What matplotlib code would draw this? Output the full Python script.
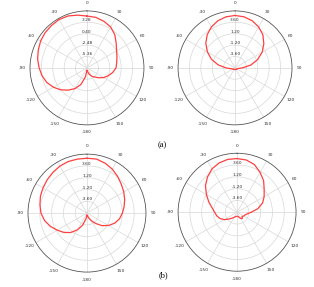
import numpy as np
import matplotlib.pyplot as plt
from matplotlib.ticker import MultipleLocator

# angles, degrees clockwise from north, 10 deg steps
angles = list(range(0, 190, 10)) + list(range(-170, 10, 10))

# patterns read as fraction of the plot radius
pat_a1 = [0.91, 0.90, 0.87, 0.83, 0.76, 0.67, 0.60, 0.56, 0.53, 0.51,
          0.46, 0.40, 0.34, 0.27, 0.21, 0.17, 0.12, 0.07, 0.04,
          0.16, 0.31, 0.42, 0.51, 0.60, 0.68, 0.75, 0.80, 0.84,
          0.88, 0.91, 0.94, 0.96, 0.97, 0.98, 0.97, 0.94, 0.91]
pat_a2 = [0.92, 0.91, 0.88, 0.83, 0.76, 0.66, 0.55, 0.42, 0.28, 0.13,
          0.06, 0.04, 0.04, 0.04, 0.03, 0.03, 0.03, 0.03, 0.03,
          0.03, 0.03, 0.03, 0.03, 0.04, 0.04, 0.05, 0.08, 0.16,
          0.30, 0.44, 0.56, 0.67, 0.76, 0.83, 0.88, 0.91, 0.92]
pat_b1 = [0.93, 0.93, 0.90, 0.86, 0.81, 0.76, 0.72, 0.68, 0.64, 0.60,
          0.56, 0.50, 0.42, 0.33, 0.23, 0.15, 0.09, 0.05, 0.03,
          0.10, 0.22, 0.33, 0.43, 0.51, 0.58, 0.66, 0.73, 0.78,
          0.81, 0.84, 0.86, 0.88, 0.90, 0.92, 0.93, 0.93, 0.93]
pat_b2 = [0.91, 0.90, 0.86, 0.78, 0.70, 0.60, 0.53, 0.46, 0.36, 0.24,
          0.17, 0.14, 0.13, 0.11, 0.14, 0.12, 0.09, 0.07, 0.07,
          0.07, 0.08, 0.10, 0.13, 0.18, 0.25, 0.31, 0.35, 0.38,
          0.43, 0.51, 0.60, 0.70, 0.78, 0.85, 0.89, 0.91, 0.91]

# radial scales: value at center and ring step (rings at 0.2..1.0)
scale_a1 = (-8.24, 2.88)
scale_std = (-6.0, 2.4)

panels = [
    (pat_a1, scale_a1, [0.0955, 0.565, 0.363, 0.397]),
    (pat_a2, scale_std, [0.567, 0.565, 0.363, 0.397]),
    (pat_b1, scale_std, [0.089, 0.052, 0.376, 0.411]),
    (pat_b2, scale_std, [0.567, 0.055, 0.376, 0.411]),
]

theta_labels = ['0', '30', '60', '90', '120', '150', '-180',
                '-150', '-120', '-90', '-60', '-30']

fig = plt.figure(figsize=(3.14, 2.87), dpi=100)

for pat, (rmin, step), rect in panels:
    ax = fig.add_axes(rect, projection='polar')
    ax.set_theta_zero_location('N')
    ax.set_theta_direction(-1)
    rmax = rmin + 5 * step
    vals = [rmin + p * 5 * step for p in pat]
    ax.plot(np.deg2rad(angles), vals, color='#ff4040', lw=0.9)
    ax.set_rlim(rmin, rmax)
    rings = [rmin + k * step for k in range(1, 5)]
    ax.set_rticks(rings)
    ax.set_yticklabels([])
    for r in rings:
        ax.text(0, r, '%.2f' % r, ha='center', va='bottom', fontsize=3.2,
                color='#333333')
    ax.set_thetagrids(np.arange(0, 360, 30), theta_labels, fontsize=3.2)
    ax.xaxis.set_minor_locator(MultipleLocator(np.deg2rad(5)))
    ax.tick_params(axis='x', which='major', direction='in', pad=-1.5,
                   length=2, width=0.5, colors='#333333')
    ax.tick_params(axis='x', which='minor', direction='in', length=1.2,
                   width=0.4, color='#555555')
    ax.grid(color='#d8d8d8', lw=0.5)
    ax.spines['polar'].set_color('#555555')
    ax.spines['polar'].set_linewidth(0.6)

fig.text(0.516, 0.495, '(a)', ha='center', va='center', fontsize=6,
         family='Liberation Serif')
fig.text(0.519, 0.042, '(b)', ha='center', va='center', fontsize=6,
         family='Liberation Serif')

fig.savefig('out.png', dpi=100)
